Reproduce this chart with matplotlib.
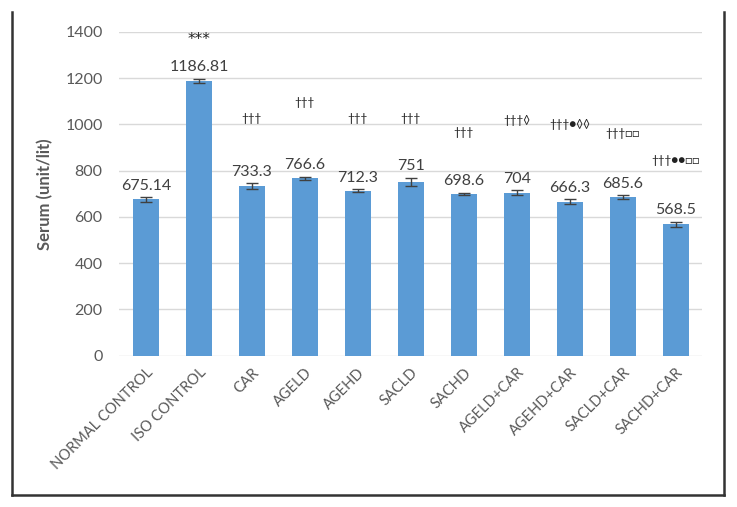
import matplotlib
matplotlib.use("Agg")
import matplotlib.pyplot as plt
from matplotlib.lines import Line2D

plt.rcParams['font.family'] = ['Lato', 'DejaVu Sans']

categories = ["NORMAL CONTROL", "ISO CONTROL", "CAR", "AGELD", "AGEHD", "SACLD",
              "SACHD", "AGELD+CAR", "AGEHD+CAR", "SACLD+CAR", "SACHD+CAR"]
values = [675.14, 1186.81, 733.3, 766.6, 712.3, 751, 698.6, 704, 666.3, 685.6, 568.5]
value_labels = ["675.14", "1186.81", "733.3", "766.6", "712.3", "751", "698.6", "704",
                "666.3", "685.6", "568.5"]
errors = [9, 9, 11, 6, 6, 17, 4, 10, 9, 7, 11]
sig_marks = ["", "***", "†††", "†††", "†††", "†††", "†††", "†††◊", "†††●◊◊", "†††□□", "†††●●□□"]
sig_heights = [0, 1365, 1023, 1096, 1023, 1023, 966, 1018, 1001, 962, 845]
yticks = [0, 200, 400, 600, 800, 1000, 1200, 1400]

gray = "#595959"
fig = plt.figure(figsize=(7.37, 5.07), dpi=100)
ax = fig.add_axes([0.162, 0.2984, 0.791, 0.639])

x = list(range(len(categories)))
ax.bar(x, values, width=0.5, color="#5B9BD5", zorder=2)
ax.errorbar(x, values, yerr=errors, fmt="none", ecolor="#404040", elinewidth=1,
            capsize=4, capthick=1, zorder=3)

for i in x:
    ax.text(i, values[i] + errors[i] + 20, value_labels[i], ha="center", va="bottom",
            fontsize=11.5, color="#404040")
    if sig_marks[i]:
        if sig_marks[i] == "***":
            ax.text(i, sig_heights[i], sig_marks[i], ha="center", va="center",
                    fontsize=11, color="#222222", family="DejaVu Sans")
        else:
            ax.text(i, sig_heights[i], sig_marks[i], ha="center", va="center",
                    fontsize=8.5, color="#222222")

ax.set_ylim(0, 1400)
ax.set_xlim(-0.5, len(categories) - 0.5)
ax.set_yticks(yticks)
ax.set_yticklabels([str(t) for t in yticks], fontsize=11.5, color=gray)
ax.set_xticks(x)
ax.set_xticklabels(categories, rotation=45, ha="right", rotation_mode="anchor",
                   fontsize=10.5, color=gray)
ax.tick_params(axis="y", length=0, pad=12)
ax.tick_params(axis="x", length=0, pad=7)
ax.grid(axis="y", color="#D9D9D9", linewidth=1, zorder=0)
ax.set_axisbelow(True)
for s in ax.spines.values():
    s.set_visible(False)
ax.set_ylabel("Serum (unit/lit)", fontsize=12, fontweight="bold", color=gray, labelpad=9)

# border around the figure (left, right, bottom)
W, H = 737, 507
def fx(p): return p / W
def fy(p): return 1 - p / H
for xs, ys in [([12, 12], [12, 495]), ([724, 724], [12, 495]), ([12, 724], [495, 495])]:
    fig.add_artist(Line2D([fx(v) for v in xs], [fy(v) for v in ys], color="#333333",
                          linewidth=1.8, transform=fig.transFigure))

fig.savefig("out.png", dpi=100)
